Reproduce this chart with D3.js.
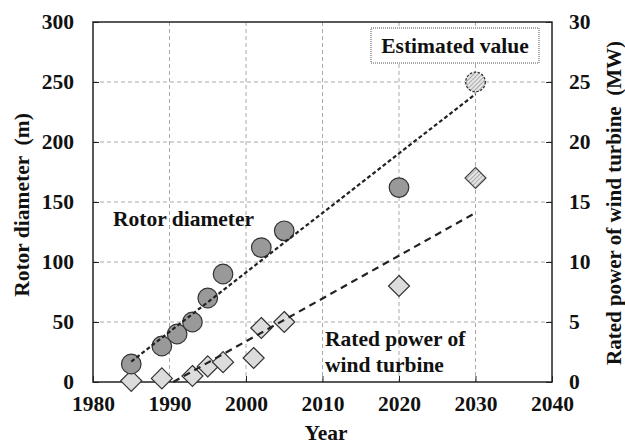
<!DOCTYPE html>
<html><head><meta charset="utf-8">
<script src="https://cdn.jsdelivr.net/npm/d3@7"></script>
<style>body{margin:0;background:#fff}</style>
</head><body><svg id="c" width="625" height="445"></svg>
<script>
const rotorYears=[1985,1989,1991,1993,1995,1997,2002,2005,2020];
const rotorDiam=[15,30,40,50,70,90,112,126,162];
const rotorEstYears=[2030];
const rotorEst=[250];
const powerYears=[1985,1989,1993,1995,1997,2001,2002,2005,2020];
const powerMW=[0.1,0.3,0.5,1.3,1.65,2,4.5,5,8];
const powerEstYears=[2030];
const powerEst=[17];
const rotorTrendYears=[1985,2030];
const rotorTrendVals=[17,240];
const powerTrendYears=[1990.5,2030];
const powerTrendVals=[0,14.1];
const xTicks=[1980,1990,2000,2010,2020,2030,2040];
const yLeftTicks=[0,50,100,150,200,250,300];
const yRightTicks=[0,5,10,15,20,25,30];

const FONT='Liberation Serif';
const W=625,H=445,m={l:93,t:22,r:73,b:63};
const svg=d3.select('#c');
const x=d3.scaleLinear().domain([1980,2040]).range([m.l,W-m.r]);
const yL=d3.scaleLinear().domain([0,300]).range([H-m.b,m.t]);
const yR=d3.scaleLinear().domain([0,30]).range([H-m.b,m.t]);
const txt=(sel,size)=>sel.style('font-family',FONT).style('font-weight','bold').style('font-size',size+'px').attr('fill','#111');

const defs=svg.append('defs');
const pat=defs.append('pattern').attr('id','hatch').attr('patternUnits','userSpaceOnUse')
  .attr('width',3).attr('height',3).attr('patternTransform','rotate(45)');
pat.append('rect').attr('width',3).attr('height',3).attr('fill','#e6e6e6');
pat.append('line').attr('x1',0).attr('y1',0).attr('x2',0).attr('y2',3).attr('stroke','#8a8a8a').attr('stroke-width',1.3);

// grid
const g=svg.append('g');
g.selectAll('.gx').data(xTicks.slice(1,-1)).join('line')
  .attr('x1',d=>x(d)).attr('x2',d=>x(d)).attr('y1',m.t).attr('y2',H-m.b)
  .attr('stroke','#aaa').attr('stroke-dasharray','4,3').attr('stroke-width',1);
g.selectAll('.gy').data(yLeftTicks.slice(1,-1)).join('line')
  .attr('x1',m.l).attr('x2',W-m.r).attr('y1',d=>yL(d)).attr('y2',d=>yL(d))
  .attr('stroke','#aaa').attr('stroke-dasharray','4,3').attr('stroke-width',1);

// axes
const ax=svg.append('g').attr('transform',`translate(0,${H-m.b})`)
  .call(d3.axisBottom(x).tickValues(xTicks).tickFormat(d3.format('d')).tickSizeInner(-6).tickSizeOuter(0).tickPadding(14));
const ayl=svg.append('g').attr('transform',`translate(${m.l},0)`)
  .call(d3.axisLeft(yL).tickValues(yLeftTicks).tickSizeInner(-6).tickSizeOuter(0).tickPadding(19));
const ayr=svg.append('g').attr('transform',`translate(${W-m.r},0)`)
  .call(d3.axisRight(yR).tickValues(yRightTicks).tickSizeInner(-6).tickSizeOuter(0).tickPadding(17));
[ax,ayl,ayr].forEach(a=>{
  a.attr('font-family',null).attr('font-size',null);
  a.select('.domain').remove();
  a.selectAll('.tick line').attr('stroke','#222');
  txt(a.selectAll('text'),21.5);
});
svg.append('rect').attr('x',m.l).attr('y',m.t).attr('width',W-m.l-m.r).attr('height',H-m.t-m.b)
  .attr('fill','none').attr('stroke','#222').attr('stroke-width',1.5);

// markers
const diamond=(cx,cy,r)=>`M${cx},${cy-r}L${cx+r},${cy}L${cx},${cy+r}L${cx-r},${cy}Z`;
svg.append('g').selectAll('path').data(powerYears.map((d,i)=>[d,powerMW[i]])).join('path')
  .attr('d',d=>diamond(x(d[0]),yR(d[1]),10.5)).attr('fill','#dcdcdc').attr('stroke','#333').attr('stroke-width',1.2);
svg.append('g').selectAll('circle').data(rotorYears.map((d,i)=>[d,rotorDiam[i]])).join('circle')
  .attr('cx',d=>x(d[0])).attr('cy',d=>yL(d[1])).attr('r',9.8).attr('fill','#999').attr('stroke','#333').attr('stroke-width',1.2);
svg.append('g').selectAll('path').data(powerEstYears.map((d,i)=>[d,powerEst[i]])).join('path')
  .attr('d',d=>diamond(x(d[0]),yR(d[1]),10.5)).attr('fill','url(#hatch)').attr('stroke','#444').attr('stroke-width',1.2);
svg.append('g').selectAll('circle').data(rotorEstYears.map((d,i)=>[d,rotorEst[i]])).join('circle')
  .attr('cx',d=>x(d[0])).attr('cy',d=>yL(d[1])).attr('r',9.8).attr('fill','url(#hatch)').attr('stroke','#333').attr('stroke-width',1.3).attr('stroke-dasharray','2.5,1.5');

// trend lines
const lineL=d3.line().x(d=>x(d[0])).y(d=>yL(d[1]));
const lineR=d3.line().x(d=>x(d[0])).y(d=>yR(d[1]));
svg.append('path').attr('d',lineL(rotorTrendYears.map((d,i)=>[d,rotorTrendVals[i]])))
  .attr('fill','none').attr('stroke','#222').attr('stroke-width',2.2).attr('stroke-dasharray','4,2.5');
svg.append('path').attr('d',lineR(powerTrendYears.map((d,i)=>[d,powerTrendVals[i]])))
  .attr('fill','none').attr('stroke','#222').attr('stroke-width',2.2).attr('stroke-dasharray','7,5');

// estimated box
svg.append('rect').attr('x',371).attr('y',28).attr('width',168).attr('height',35)
  .attr('fill','#fff').attr('stroke','#555').attr('stroke-width',1).attr('stroke-dasharray','1,1');
txt(svg.append('text').attr('x',455).attr('y',53).attr('text-anchor','middle'),21.5).text('Estimated value');

// labels
txt(svg.append('text').attr('x',113).attr('y',226),21.5).text('Rotor diameter');
txt(svg.append('text').attr('x',325).attr('y',346),21.5).text('Rated power of');
txt(svg.append('text').attr('x',325).attr('y',372),21.5).text('wind turbine');

// axis titles
txt(svg.append('text').attr('x',326).attr('y',440).attr('text-anchor','middle'),21.5).text('Year');
txt(svg.append('text').attr('transform',`translate(29,205) rotate(-90)`).attr('text-anchor','middle')
  .style('white-space','pre'),21.5).text('Rotor diameter  (m)');
txt(svg.append('text').attr('transform',`translate(621,203) rotate(-90)`).attr('text-anchor','middle')
  .style('white-space','pre'),21).text('Rated power of wind turbine  (MW)');
</script></body></html>
